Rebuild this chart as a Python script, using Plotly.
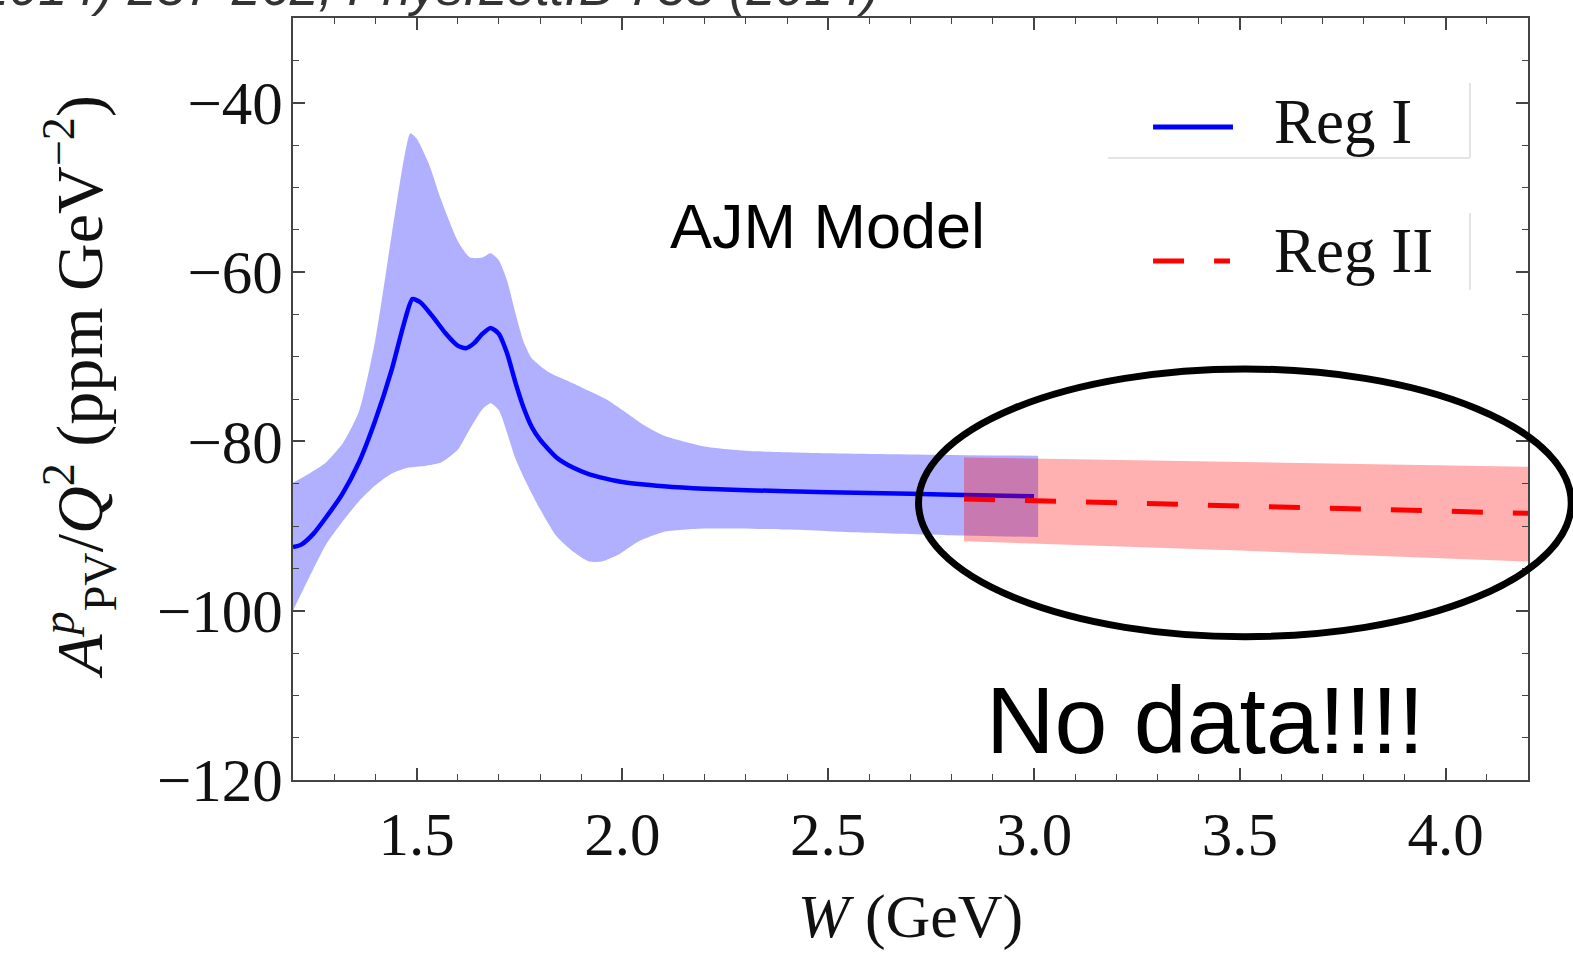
import plotly.graph_objects as go

# ---------------- data ----------------
# Reg I central curve
w_center = [1.20, 1.22, 1.25, 1.28, 1.32, 1.36, 1.40, 1.44, 1.47, 1.49, 1.51, 1.54, 1.57,
            1.60, 1.62, 1.64, 1.66, 1.68, 1.70, 1.72, 1.74, 1.76, 1.78, 1.80, 1.84,
            1.88, 1.92, 1.96, 2.00, 2.10, 2.20, 2.40, 2.60, 2.80, 3.00]
a_center = [-92.5, -92.2, -90.9, -89.0, -86.2, -82.5, -77.5, -71.5, -66.0, -63.2, -63.6, -65.3, -67.2,
            -68.7, -69.0, -68.4, -67.3, -66.6, -67.3, -69.6, -73.0, -76.0, -78.3, -79.8, -81.9,
            -83.1, -83.9, -84.4, -84.8, -85.3, -85.6, -85.9, -86.1, -86.3, -86.5]

# Reg I band, upper edge
w_upper = [1.20, 1.24, 1.28, 1.32, 1.36, 1.40, 1.44, 1.47, 1.485, 1.50, 1.53, 1.56, 1.60,
           1.63, 1.66, 1.68, 1.70, 1.72, 1.74, 1.76, 1.78, 1.82, 1.86, 1.90, 1.96, 2.00,
           2.05, 2.10, 2.20, 2.30, 2.50, 2.80, 3.01]
a_upper = [-84.9, -83.8, -82.5, -80.3, -76.5, -68.0, -55.5, -46.5, -43.6, -44.2, -47.2, -51.5, -56.3,
           -58.3, -58.3, -57.8, -58.6, -61.0, -64.8, -68.2, -70.2, -71.8, -72.7, -73.6, -75.0, -76.3,
           -78.0, -79.3, -80.6, -81.1, -81.4, -81.6, -81.7]

# Reg I band, lower edge
w_lower = [1.20, 1.24, 1.28, 1.32, 1.36, 1.40, 1.44, 1.48, 1.52, 1.56, 1.60, 1.63, 1.66,
           1.68, 1.70, 1.72, 1.74, 1.76, 1.80, 1.84, 1.88, 1.92, 1.95, 1.99, 2.04, 2.10,
           2.20, 2.40, 2.60, 2.80, 3.01]
a_lower = [-100.0, -96.0, -92.2, -89.5, -87.1, -85.2, -83.8, -83.1, -82.9, -82.5, -81.0, -78.5, -76.2,
           -75.5, -76.3, -79.0, -82.0, -84.2, -88.0, -91.2, -93.0, -94.2, -94.2, -93.4, -91.8, -90.7,
           -90.3, -90.4, -90.8, -91.1, -91.3]

# Reg II
w_reg2 = [2.83, 3.50, 4.20]
a_reg2_center = [-86.8, -87.6, -88.5]
a_reg2_upper = [-81.9, -82.4, -83.0]
a_reg2_lower = [-91.8, -92.9, -94.2]

x_ticks = [1.5, 2.0, 2.5, 3.0, 3.5, 4.0]
y_ticks = [-120, -100, -80, -60, -40]

# ---------------- figure ----------------
BLUE = "#0000ff"
RED = "#ff0000"
FRAME = "#444444"
SERIF = "Liberation Serif, Times New Roman, serif"
SANS = "Liberation Sans, Arial, Helvetica, sans-serif"

fig = go.Figure()

# Reg I band (lower edge, then upper edge filled down to it)
fig.add_trace(go.Scatter(
    x=w_lower, y=a_lower, mode="lines",
    line=dict(width=0, color="rgba(0,0,0,0)", shape="spline", smoothing=0.6),
    hoverinfo="skip", showlegend=False))
fig.add_trace(go.Scatter(
    x=w_upper, y=a_upper, mode="lines", fill="tonexty", fillcolor="rgba(0,0,255,0.31)",
    line=dict(width=0, color="rgba(0,0,0,0)", shape="spline", smoothing=0.6),
    hoverinfo="skip", showlegend=False))
# Reg I line
fig.add_trace(go.Scatter(
    x=w_center, y=a_center, mode="lines", name="Reg I",
    line=dict(color=BLUE, width=4.5, shape="spline", smoothing=0.6),
    showlegend=False))
# Reg II band
fig.add_trace(go.Scatter(
    x=w_reg2 + w_reg2[::-1], y=a_reg2_upper + a_reg2_lower[::-1],
    fill="toself", fillcolor="rgba(255,0,0,0.31)", mode="lines",
    line=dict(width=0, color="rgba(0,0,0,0)"),
    hoverinfo="skip", showlegend=False))
# Reg II line
fig.add_trace(go.Scatter(
    x=w_reg2, y=a_reg2_center, mode="lines", name="Reg II",
    line=dict(color=RED, width=5, dash="31px,30px"),
    showlegend=False))

axis_common = dict(
    showline=True, linecolor=FRAME, linewidth=2, mirror="allticks",
    ticks="inside", ticklen=12, tickwidth=1.5, tickcolor=FRAME,
    showgrid=False, zeroline=False,
    tickfont=dict(family=SERIF, size=61, color="#111111"),
)

fig.update_xaxes(
    range=[1.2, 4.2], tickmode="array", tickvals=x_ticks,
    ticktext=[f"{v:.1f}" for v in x_ticks],
    minor=dict(ticks="inside", ticklen=6, tickwidth=1.2, tickcolor=FRAME, dtick=0.1, tick0=1.2),
    title=dict(text="<i>W</i> (GeV)", font=dict(family=SERIF, size=62, color="#111111"), standoff=26),
    **axis_common)
fig.update_yaxes(
    range=[-120, -30], tickmode="array", tickvals=y_ticks,
    minor=dict(ticks="inside", ticklen=6, tickwidth=1.2, tickcolor=FRAME, dtick=5, tick0=-120),
    ticklabelstandoff=-4,
    **axis_common)

# ---- manual legend (Mathematica style) ----
shapes = [
    dict(type="line", xref="paper", yref="paper", x0=0.6964, x1=0.7611, y0=0.8570, y1=0.8570,
         line=dict(color=BLUE, width=5)),
    dict(type="line", xref="paper", yref="paper", x0=0.6964, x1=0.7587, y0=0.6811, y1=0.6811,
         line=dict(color=RED, width=5, dash="31px,30px")),
    dict(type="line", xref="paper", yref="paper", x0=0.6599, x1=0.9530, y0=0.8163, y1=0.8163,
         line=dict(color="#e4e4e4", width=2)),
    dict(type="line", xref="paper", yref="paper", x0=0.9530, x1=0.9530, y0=0.8163, y1=0.9147,
         line=dict(color="#e4e4e4", width=2)),
    dict(type="line", xref="paper", yref="paper", x0=0.9530, x1=0.9530, y0=0.643, y1=0.7441,
         line=dict(color="#e4e4e4", width=2)),
    # ellipse highlighting the Reg II region
    dict(type="circle", xref="paper", yref="paper", x0=0.5065, x1=1.035, y0=0.188, y1=0.5394,
         line=dict(color="black", width=7), fillcolor="rgba(0,0,0,0)"),
]

annotations = [
    # y-axis title
    dict(text="<i>A</i><sup><i>p</i></sup><sub>PV</sub>/<i>Q</i><sup>2</sup> (ppm GeV<sup>−2</sup>)",
         xref="paper", yref="paper", x=-0.1725, y=0.516, xanchor="center", yanchor="middle",
         textangle=-90, showarrow=False, font=dict(family=SERIF, size=66, color="#111111")),
    dict(text="Reg I", xref="paper", yref="paper", x=0.7930, y=0.8635, xanchor="left",
         yanchor="middle", showarrow=False, font=dict(family=SERIF, size=63, color="#111111")),
    dict(text="Reg II", xref="paper", yref="paper", x=0.7930, y=0.6942, xanchor="left",
         yanchor="middle", showarrow=False, font=dict(family=SERIF, size=63, color="#111111")),
    dict(text="AJM Model", xref="paper", yref="paper", x=0.4324, y=0.727, xanchor="center",
         yanchor="middle", showarrow=False, font=dict(family=SANS, size=63, color="black")),
    dict(text="No data!!!!", xref="paper", yref="paper", x=0.7385, y=0.0790, xanchor="center",
         yanchor="middle", showarrow=False, font=dict(family=SANS, size=95, color="black")),
    dict(text="<i>(2014) 257-262; Phys.Lett.B 735 (2014)</i>", xref="paper", yref="paper",
         x=0.4760, y=1.041, xanchor="right", yanchor="middle", showarrow=False,
         font=dict(family=SANS, size=52, color="#333333")),
]

fig.update_layout(
    width=1573, height=953,
    margin=dict(l=293, r=45, t=18, b=173, autoexpand=False),
    plot_bgcolor="white", paper_bgcolor="white",
    shapes=shapes, annotations=annotations,
    showlegend=False,
)

fig.write_html("out.html", config={"displayModeBar": False},
               post_script="document.body.style.margin='0';document.body.style.overflow='hidden';")
